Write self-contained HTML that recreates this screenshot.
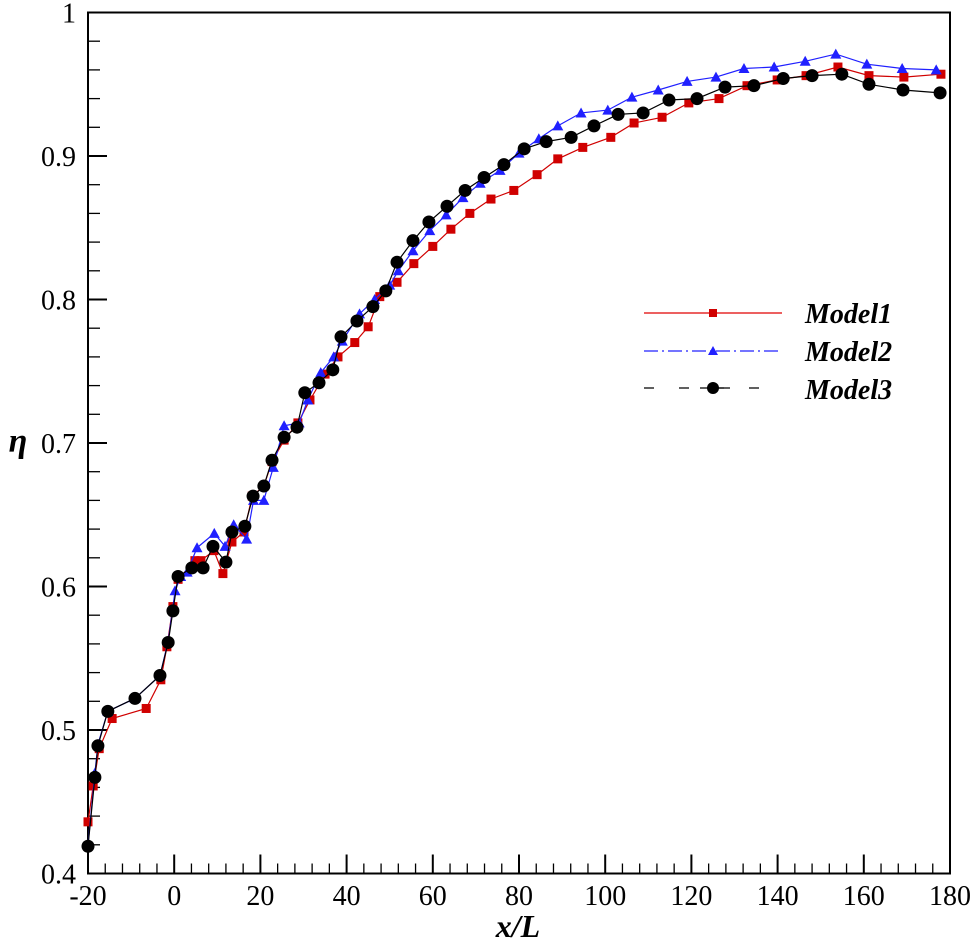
<!DOCTYPE html>
<html><head><meta charset="utf-8"><style>
body{margin:0;background:#fff}
svg{display:block}
svg text{font-family:"Liberation Serif","Times New Roman",serif}
</style></head><body>
<svg id="chart" width="975" height="945" viewBox="0 0 975 945" font-family="Liberation Serif, serif">
<g id="axes"></g><g id="series"></g>
<text x="18" y="452" font-family="Liberation Serif, serif" font-size="34" font-style="italic" font-weight="bold" text-anchor="middle">η</text>
<text x="518" y="937" font-family="Liberation Serif, serif" font-size="32" font-style="italic" font-weight="bold" text-anchor="middle">x/L</text>
<g font-family="Liberation Serif, serif">
<g>
<line x1="644" y1="313" x2="782" y2="313" stroke="#e00000" stroke-width="1.2"/>
<rect x="709" y="309" width="8" height="8" fill="#d00000"/>
<text x="805" y="323" font-size="28" font-style="italic" font-weight="bold">Model1</text></g>
<g>
<line x1="644" y1="351" x2="782" y2="351" stroke="#2020ff" stroke-width="1.2" stroke-dasharray="14,4,2,4"/>
<polygon points="713,346 718,355 708,355" fill="#2020ff"/>
<text x="805" y="361" font-size="28" font-style="italic" font-weight="bold">Model2</text></g>
<g>
<line x1="644" y1="388" x2="782" y2="388" stroke="#000" stroke-width="1.2" stroke-dasharray="10,25"/>
<line x1="700" y1="388" x2="730" y2="388" stroke="#000" stroke-width="1.2"/>
<circle cx="713" cy="388" r="6" fill="#000"/>
<text x="805" y="399" font-size="28" font-style="italic" font-weight="bold">Model3</text></g>
</g>
</svg>
<script>
const xTicks=[-20,0,20,40,60,80,100,120,140,160,180];
const yTicks=[0.4,0.5,0.6,0.7,0.8,0.9,1];
const yTickLabels=["0.4","0.5","0.6","0.7","0.8","0.9","1"];
const m1x=[-20,-18.8,-17.4,-14.4,-6.5,-3.1,-1.7,-0.3,0.9,4.8,6.2,9.2,11.3,13.4,16.2,18.1,20.8,22.7,25.5,28.7,31.5,35,38,41.9,45,47.7,51.7,55.6,60,64.2,68.6,73.5,78.8,84.2,89,94.8,101.3,106.7,113.2,119.4,126.4,132.9,139.9,146.6,154,161.2,169.3,177.9];
const m1y=[0.436,0.461,0.487,0.508,0.515,0.535,0.558,0.586,0.605,0.618,0.618,0.625,0.609,0.631,0.638,0.663,0.670,0.687,0.702,0.714,0.730,0.748,0.760,0.770,0.781,0.802,0.812,0.825,0.837,0.849,0.860,0.870,0.876,0.887,0.898,0.906,0.913,0.923,0.927,0.937,0.940,0.949,0.953,0.956,0.962,0.956,0.955,0.957];
const m2x=[-20,-18.4,-17.7,-15.4,-9.1,-3.3,-1.4,0.2,1.5,3,5.3,9.3,11.8,13.8,16.8,18.4,20.8,23,25.5,29,31,34,37,39,43,46.5,50,52,55.4,59.3,63.1,67,71,75.6,80,84.6,89,94.4,100.6,106.2,112.3,119,125.7,132.2,139.2,146.4,153.5,160.7,168.9,176.8];
const m2y=[0.42,0.47,0.49,0.513,0.522,0.538,0.562,0.597,0.607,0.61,0.627,0.637,0.628,0.643,0.633,0.66,0.66,0.683,0.712,0.714,0.73,0.749,0.76,0.771,0.79,0.80,0.81,0.82,0.834,0.848,0.859,0.871,0.881,0.890,0.902,0.912,0.921,0.930,0.932,0.941,0.946,0.952,0.955,0.961,0.962,0.966,0.971,0.964,0.961,0.960];
const m3x=[-20,-18.4,-17.7,-15.4,-9.1,-3.3,-1.4,-0.3,0.9,4.1,6.7,9,12,13.4,16.4,18.3,20.8,22.7,25.5,28.5,30.3,33.6,36.8,38.7,42.4,46.1,49.1,51.7,55.4,59.1,63.3,67.5,71.9,76.5,81.2,86.3,92.1,97.4,103,108.8,114.8,121.3,127.8,134.5,141.3,148,154.9,161.2,169.1,177.7];
const m3y=[0.419,0.467,0.489,0.513,0.522,0.538,0.561,0.583,0.607,0.613,0.613,0.628,0.617,0.638,0.642,0.663,0.670,0.688,0.704,0.711,0.735,0.742,0.751,0.774,0.785,0.795,0.806,0.826,0.841,0.854,0.865,0.876,0.885,0.894,0.905,0.910,0.913,0.921,0.929,0.930,0.939,0.940,0.948,0.949,0.954,0.956,0.957,0.950,0.946,0.944];
const L=88,R=950,T=12.5,B=873.5;
const sx=v=>L+(v+20)/200*(R-L);
const sy=v=>B-(v-0.4)/0.6*(B-T);
const NS="http://www.w3.org/2000/svg";
function mk(tag,attrs,parent){const e=document.createElementNS(NS,tag);for(const k in attrs)e.setAttribute(k,attrs[k]);parent.appendChild(e);return e;}
const ax=document.getElementById('axes');
const frame=mk('rect',{x:L,y:T,width:R-L,height:B-T,fill:'none',stroke:'#000','stroke-width':2},ax);


for(let v=-20;v<=180;v+=4){const maj=(v%20===0);const t=mk('line',{x1:sx(v),x2:sx(v),y1:B,y2:B-(maj?19:10),stroke:'#000','stroke-width':maj?2:1.3},ax);

}
for(let i=0;i<=30;i++){const v=0.4+i*0.02;const maj=(i%5===0);const t=mk('line',{x1:L,x2:L+(maj?19:12),y1:sy(v),y2:sy(v),stroke:'#000','stroke-width':maj?2:1.3},ax);

}
xTicks.forEach(v=>{const t=mk('text',{x:sx(v),y:905,'font-size':28,'text-anchor':'middle','font-family':'Liberation Serif, serif'},ax);t.textContent=v;

});
yTicks.forEach((v,i)=>{const t=mk('text',{x:76,y:sy(v)+10,'font-size':28,'text-anchor':'end','font-family':'Liberation Serif, serif'},ax);t.textContent=yTickLabels[i];

});
const sg=document.getElementById('series');
function series(xs,ys,color,name,marker){
 const g=mk('g',{},sg);
 
 
 const pts=xs.map((x,i)=>sx(x).toFixed(1)+','+sy(ys[i]).toFixed(1)).join(' ');
 const pl=mk('polyline',{points:pts,fill:'none',stroke:color,'stroke-width':1.2},g);
 
 
 xs.forEach((x,i)=>{const cx=sx(x),cy=sy(ys[i]);let m;
  if(marker==='sq')m=mk('rect',{x:cx-4.5,y:cy-4.5,width:9,height:9,fill:color},g);
  else if(marker==='tri')m=mk('polygon',{points:`${cx},${cy-5.5} ${cx+5.5},${cy+4.5} ${cx-5.5},${cy+4.5}`,fill:color},g);
  else m=mk('circle',{cx:cx,cy:cy,r:6.5,fill:color},g);
  
  });
}
series(m1x,m1y,'#d00000','model1-series','sq');
series(m2x,m2y,'#2020ff','model2-series','tri');
series(m3x,m3y,'#000000','model3-series','circ');
</script>
</body></html>
